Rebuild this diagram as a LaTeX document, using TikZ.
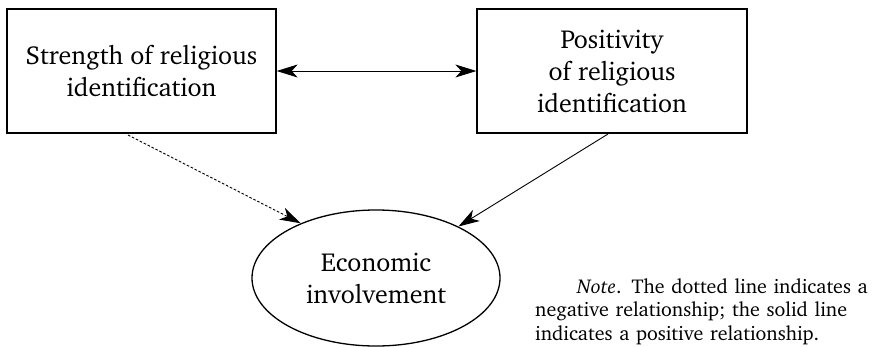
\documentclass[tikz,border=0pt]{standalone}
\usepackage[T1]{fontenc}
\usepackage{charter}
\usetikzlibrary{arrows.meta,shapes.geometric}

\tikzset{
  >={Stealth[length=21pt,width=13pt,inset=6pt]},
  bodyfont/.style={font=\fontsize{26}{32}\selectfont},
  varbox/.style={draw, line width=1.3pt, inner sep=0pt, align=center, bodyfont},
  outcome/.style={draw, ellipse, line width=1.3pt, inner sep=0pt, align=center, bodyfont},
  link/.style={line width=0.9pt},
  negpath/.style={link, ->, dash pattern=on 2.6pt off 1.8pt},
  pospath/.style={link, ->},
  notetext/.style={anchor=north west, inner sep=0pt, text width=331pt,
    align=left, font=\fontsize{20}{23.5}\selectfont}
}

\begin{document}
\begin{tikzpicture}[x=1pt,y=-1pt]
  \useasboundingbox (0,0) rectangle (878,346);

  % predictors
  \node[varbox, minimum width=269pt, minimum height=124pt] (strength) at (141.5,71)
    {Strength of religious\\identification};
  \node[varbox, minimum width=270pt, minimum height=124pt] (positivity) at (612,71)
    {Positivity\\of religious\\identification};

  % outcome
  \node[outcome, minimum width=248pt, minimum height=136pt] (econ) at (376,278)
    {Economic\\involvement};

  % correlation between predictors
  \draw[link, <->] (strength.east) -- (positivity.west);

  % paths to the outcome
  \coordinate (negstart) at (128,135);
  \coordinate (posstart) at (608,134);
  \draw[negpath] (negstart) -- (econ.144);
  \draw[pospath] (posstart) -- (econ.32);

  % note (first two lines set full width)
  \node[notetext] (note) at (535,278)
    {\hspace*{42pt}\makebox[289pt][s]{\textit{Note}. The dotted line indicates a}\\
     \makebox[331pt][s]{negative relationship; the solid line}\\
     indicates a positive relationship.};
\end{tikzpicture}
\end{document}
